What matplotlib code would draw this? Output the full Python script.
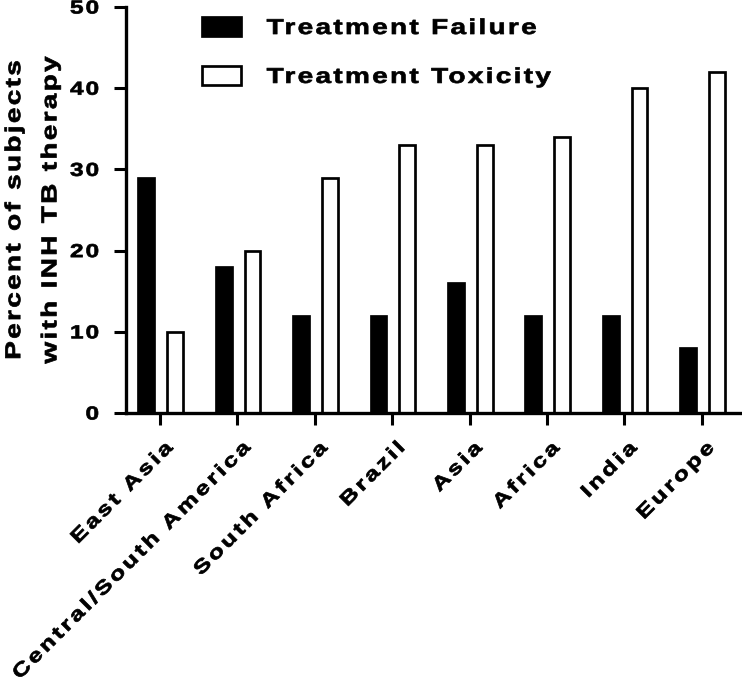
import matplotlib
matplotlib.use("Agg")
import matplotlib.pyplot as plt
import numpy as np
from matplotlib.patches import Patch
from matplotlib.patheffects import AbstractPathEffect
from matplotlib.path import Path
from matplotlib.transforms import ScaledTranslation

categories = ["East Asia", "Central/South America", "South Africa", "Brazil",
              "Asia", "Africa", "India", "Europe"]
failure = [29, 18, 12, 12, 16, 12, 12, 8]
toxicity = [10, 20, 29, 33, 33, 34, 40, 42]
series_names = ["Treatment Failure", "Treatment Toxicity"]
yticks = [0, 10, 20, 30, 40, 50]
ylabel_lines = ["Percent of subjects", "with INH TB therapy"]

FONT = "Liberation Sans"
plt.rcParams['font.family'] = [FONT, "DejaVu Sans"]
plt.rcParams['font.weight'] = 'bold'


class Tracked(AbstractPathEffect):
    """Draw text glyphs wider (sx), with extra letter spacing (track, px)
    and a thin outline (stroke, px) for a heavier look."""

    def __init__(self, strings, prop, track_px=3.0, sx=1.3, align=0.0, stroke_px=0.7):
        super().__init__()
        self.strings = list(strings)
        self.prop = prop
        self.track_px = track_px
        self.sx = sx
        self.align = align
        self.stroke_px = stroke_px

    def _glyph_index(self, renderer, n):
        t2p = renderer._text2path
        font = t2p._get_font(self.prop)
        for s in self.strings:
            info, gmap, rects = t2p.get_glyphs_with_font(font, s)
            counts = [len(gmap[g[0]][0]) for g in info]
            if sum(counts) == n:
                return np.repeat(np.arange(len(counts)), counts), len(counts)
        return None, 0

    def draw_path(self, renderer, gc, tpath, affine, rgbFace=None):
        verts = np.array(tpath.vertices, dtype=float)
        n = len(verts)
        if n == 0:
            return
        try:
            idx, nglyph = self._glyph_index(renderer, n)
        except Exception:
            idx, nglyph = None, 0
        fs_px = renderer.points_to_pixels(self.prop.get_size_in_points())
        track = self.track_px * 100.0 / fs_px
        W = verts[:, 0].max()
        new = verts.copy()
        new[:, 0] = verts[:, 0] * self.sx
        extra = (self.sx - 1) * W
        if idx is not None:
            new[:, 0] += idx * track
            extra += (nglyph - 1) * track
        new[:, 0] -= self.align * extra
        gc0 = renderer.new_gc()
        gc0.copy_properties(gc)
        gc0.set_linewidth(self.stroke_px * 72.0 / renderer.dpi)
        gc0.set_foreground(rgbFace if rgbFace is not None else "black")
        gc0.set_joinstyle("round")
        renderer.draw_path(gc0, Path(new, tpath.codes), affine, rgbFace)
        gc0.restore()


fig = plt.figure(figsize=(7.42, 6.77), dpi=100)
ax = fig.add_axes([126/742, 1-413/677, 1-126/742, (413-7)/677])

x = np.arange(len(categories))
w = 0.205
lw = 1.95
ax.bar(x - 0.178, failure, w, color="black", edgecolor="black", linewidth=lw,
       label=series_names[0])
ax.bar(x + 0.195, toxicity, w, color="white", edgecolor="black", linewidth=lw,
       label=series_names[1])

ax.set_xlim(-0.44, 7.52)
ax.set_ylim(0, 50)
ax.set_yticks(yticks)
ax.set_xticks(x)
ax.set_xticklabels(categories, rotation=45, ha="right", va="center",
                   rotation_mode="anchor", fontsize=13.8, fontweight="bold")
ax.tick_params(axis="y", labelsize=13.5, width=2.2, length=8.6, direction="out", pad=11)
ax.tick_params(axis="x", width=2.2, length=8.6, direction="out", pad=15)

for s in ["top", "right"]:
    ax.spines[s].set_visible(False)
for s in ["left", "bottom"]:
    ax.spines[s].set_linewidth(2.4)
ax.spines["left"].set_bounds(0, 50)

offset = ScaledTranslation(0.10, 0, fig.dpi_scale_trans)
for lab in ax.get_xticklabels():
    lab.set_fontweight("bold")
    lab.set_transform(lab.get_transform() + offset)
    lab.set_path_effects([Tracked([lab.get_text()], lab.get_fontproperties(),
                                  track_px=3.0, sx=1.3, align=1.0)])
for lab in ax.get_yticklabels():
    lab.set_fontweight("bold")
    lab.set_path_effects([Tracked([lab.get_text()], lab.get_fontproperties(),
                                  track_px=2.0, sx=1.3, align=1.0)])

yl = ax.set_ylabel("\n".join(ylabel_lines), fontsize=15.5, fontweight="bold",
                   labelpad=12, linespacing=1.95)
yl.set_path_effects([Tracked(ylabel_lines, yl.get_fontproperties(),
                             track_px=2.3, sx=1.3, align=0.5)])

handles = [Patch(facecolor="black", edgecolor="black", linewidth=lw),
           Patch(facecolor="white", edgecolor="black", linewidth=lw)]
leg = ax.legend(handles, series_names, loc="upper left",
                bbox_to_anchor=(202/742, 1-17/677), bbox_transform=fig.transFigure,
                frameon=False, fontsize=15.5, handlelength=1.8, handleheight=1.0,
                handletextpad=1.2, labelspacing=1.25, borderaxespad=0, borderpad=0)
for t in leg.get_texts():
    t.set_fontweight("bold")
    t.set_path_effects([Tracked([t.get_text()], t.get_fontproperties(),
                                track_px=2.3, sx=1.3, align=0.0)])

fig.savefig("out.png", dpi=100)
